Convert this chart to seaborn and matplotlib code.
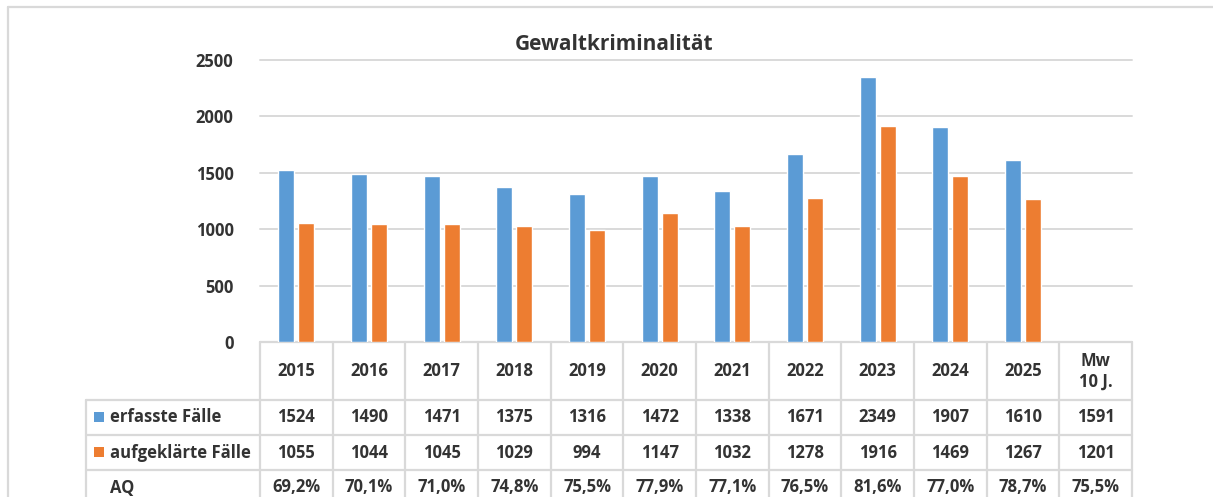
import matplotlib
matplotlib.use("Agg")
import matplotlib.pyplot as plt
from matplotlib.patches import Rectangle
import seaborn as sns
import pandas as pd

# ---------------- data ----------------
title = "Gewaltkriminalität"
years = ["2015", "2016", "2017", "2018", "2019", "2020", "2021", "2022", "2023", "2024", "2025"]
mw_label = "Mw\n10 J."
series = ["erfasste Fälle", "aufgeklärte Fälle"]
erfasst = [1524, 1490, 1471, 1375, 1316, 1472, 1338, 1671, 2349, 1907, 1610]
aufgeklaert = [1055, 1044, 1045, 1029, 994, 1147, 1032, 1278, 1916, 1469, 1267]
mw_erfasst = 1591
mw_aufgeklaert = 1201
aq_row_label = "AQ"
aq = ["69,2%", "70,1%", "71,0%", "74,8%", "75,5%", "77,9%", "77,1%", "76,5%",
      "81,6%", "77,0%", "78,7%", "75,5%"]
yticks = [0, 500, 1000, 1500, 2000, 2500]
colors = ["#5B9BD5", "#ED7D31"]

# ---------------- style ----------------
sns.set_theme(style="white")
plt.rcParams["font.family"] = ["Open Sans", "DejaVu Sans"]
TXT = "#333333"
GRID = "#D9D9D9"
FS = 12

W, H = 1213, 497
fig = plt.figure(figsize=(W / 100, H / 100), dpi=100)
fig.patch.set_facecolor("white")

left_px, right_px, top_px, base_px = 260, 1132, 60, 342
ax = fig.add_axes([left_px / W, (H - base_px) / H, (right_px - left_px) / W, (base_px - top_px) / H])

categories = years + [mw_label]
df = pd.DataFrame({
    "Jahr": years * 2,
    "Serie": [series[0]] * len(years) + [series[1]] * len(years),
    "Wert": erfasst + aufgeklaert,
})
sns.barplot(data=df, x="Jahr", y="Wert", hue="Serie", order=categories, hue_order=series,
            palette=colors, saturation=1, width=0.55, gap=0.2, legend=False, ax=ax, zorder=3)

ax.set_xlim(-0.5, len(categories) - 0.5)
ax.set_ylim(0, 2500)
ax.set_yticks(yticks)
ax.set_yticklabels([str(v) for v in yticks], fontsize=FS, fontweight="bold", color=TXT)
ax.tick_params(axis="y", length=0, pad=19)
ax.set_xticks([])
ax.set_xlabel("")
ax.set_ylabel("")
for s in ax.spines.values():
    s.set_visible(False)
for v in yticks:
    ax.axhline(v, color=GRID, lw=1.4, zorder=1, clip_on=False)
ax.set_facecolor("none")

# ---------------- overlay (frame, title, data table) ----------------
ov = fig.add_axes([0, 0, 1, 1], zorder=-1)
ov.set_xlim(0, W)
ov.set_ylim(H, 0)
ov.axis("off")

# chart frame
ov.plot([8, 8], [7, H], color=GRID, lw=1.6)
ov.plot([8, W], [7, 7], color=GRID, lw=1.6)

ov.text(614, 45, title, ha="center", va="center", fontsize=15, fontweight="bold", color=TXT)

ncol = len(categories)
cw = (right_px - left_px) / ncol
edges = [left_px + i * cw for i in range(ncol + 1)]
centers = [left_px + (i + 0.5) * cw for i in range(ncol)]
legend_left = 86
rows_y = [342, 400, 435, 470, 505]

# lines
ov.plot([left_px, right_px], [rows_y[0], rows_y[0]], color=GRID, lw=1.6)
for y in rows_y[1:4]:
    ov.plot([legend_left, right_px], [y, y], color=GRID, lw=1.6)
for x in edges:
    ov.plot([x, x], [rows_y[0], H], color=GRID, lw=1.6)
ov.plot([legend_left, legend_left], [rows_y[1], H], color=GRID, lw=1.6)

# header
for x, lab in zip(centers, categories):
    ov.text(x, (rows_y[0] + rows_y[1]) / 2, lab, ha="center", va="center", fontsize=FS,
            fontweight="bold", color=TXT, linespacing=1.2)

row_vals = [
    [str(v) for v in erfasst] + [str(mw_erfasst)],
    [str(v) for v in aufgeklaert] + [str(mw_aufgeklaert)],
    aq,
]
row_labels = series + [aq_row_label]
row_colors = colors + [None]
for r, (lab, vals, col) in enumerate(zip(row_labels, row_vals, row_colors)):
    yc = (rows_y[r + 1] + rows_y[r + 2]) / 2
    if col is not None:
        ov.add_patch(Rectangle((94, yc - 5.5), 10, 10, facecolor=col, edgecolor="none"))
    ov.text(110, yc, lab, ha="left", va="center", fontsize=FS, fontweight="bold", color=TXT)
    for x, v in zip(centers, vals):
        ov.text(x, yc, v, ha="center", va="center", fontsize=FS, fontweight="bold", color=TXT)

fig.savefig("out.png", dpi=100, facecolor="white")
